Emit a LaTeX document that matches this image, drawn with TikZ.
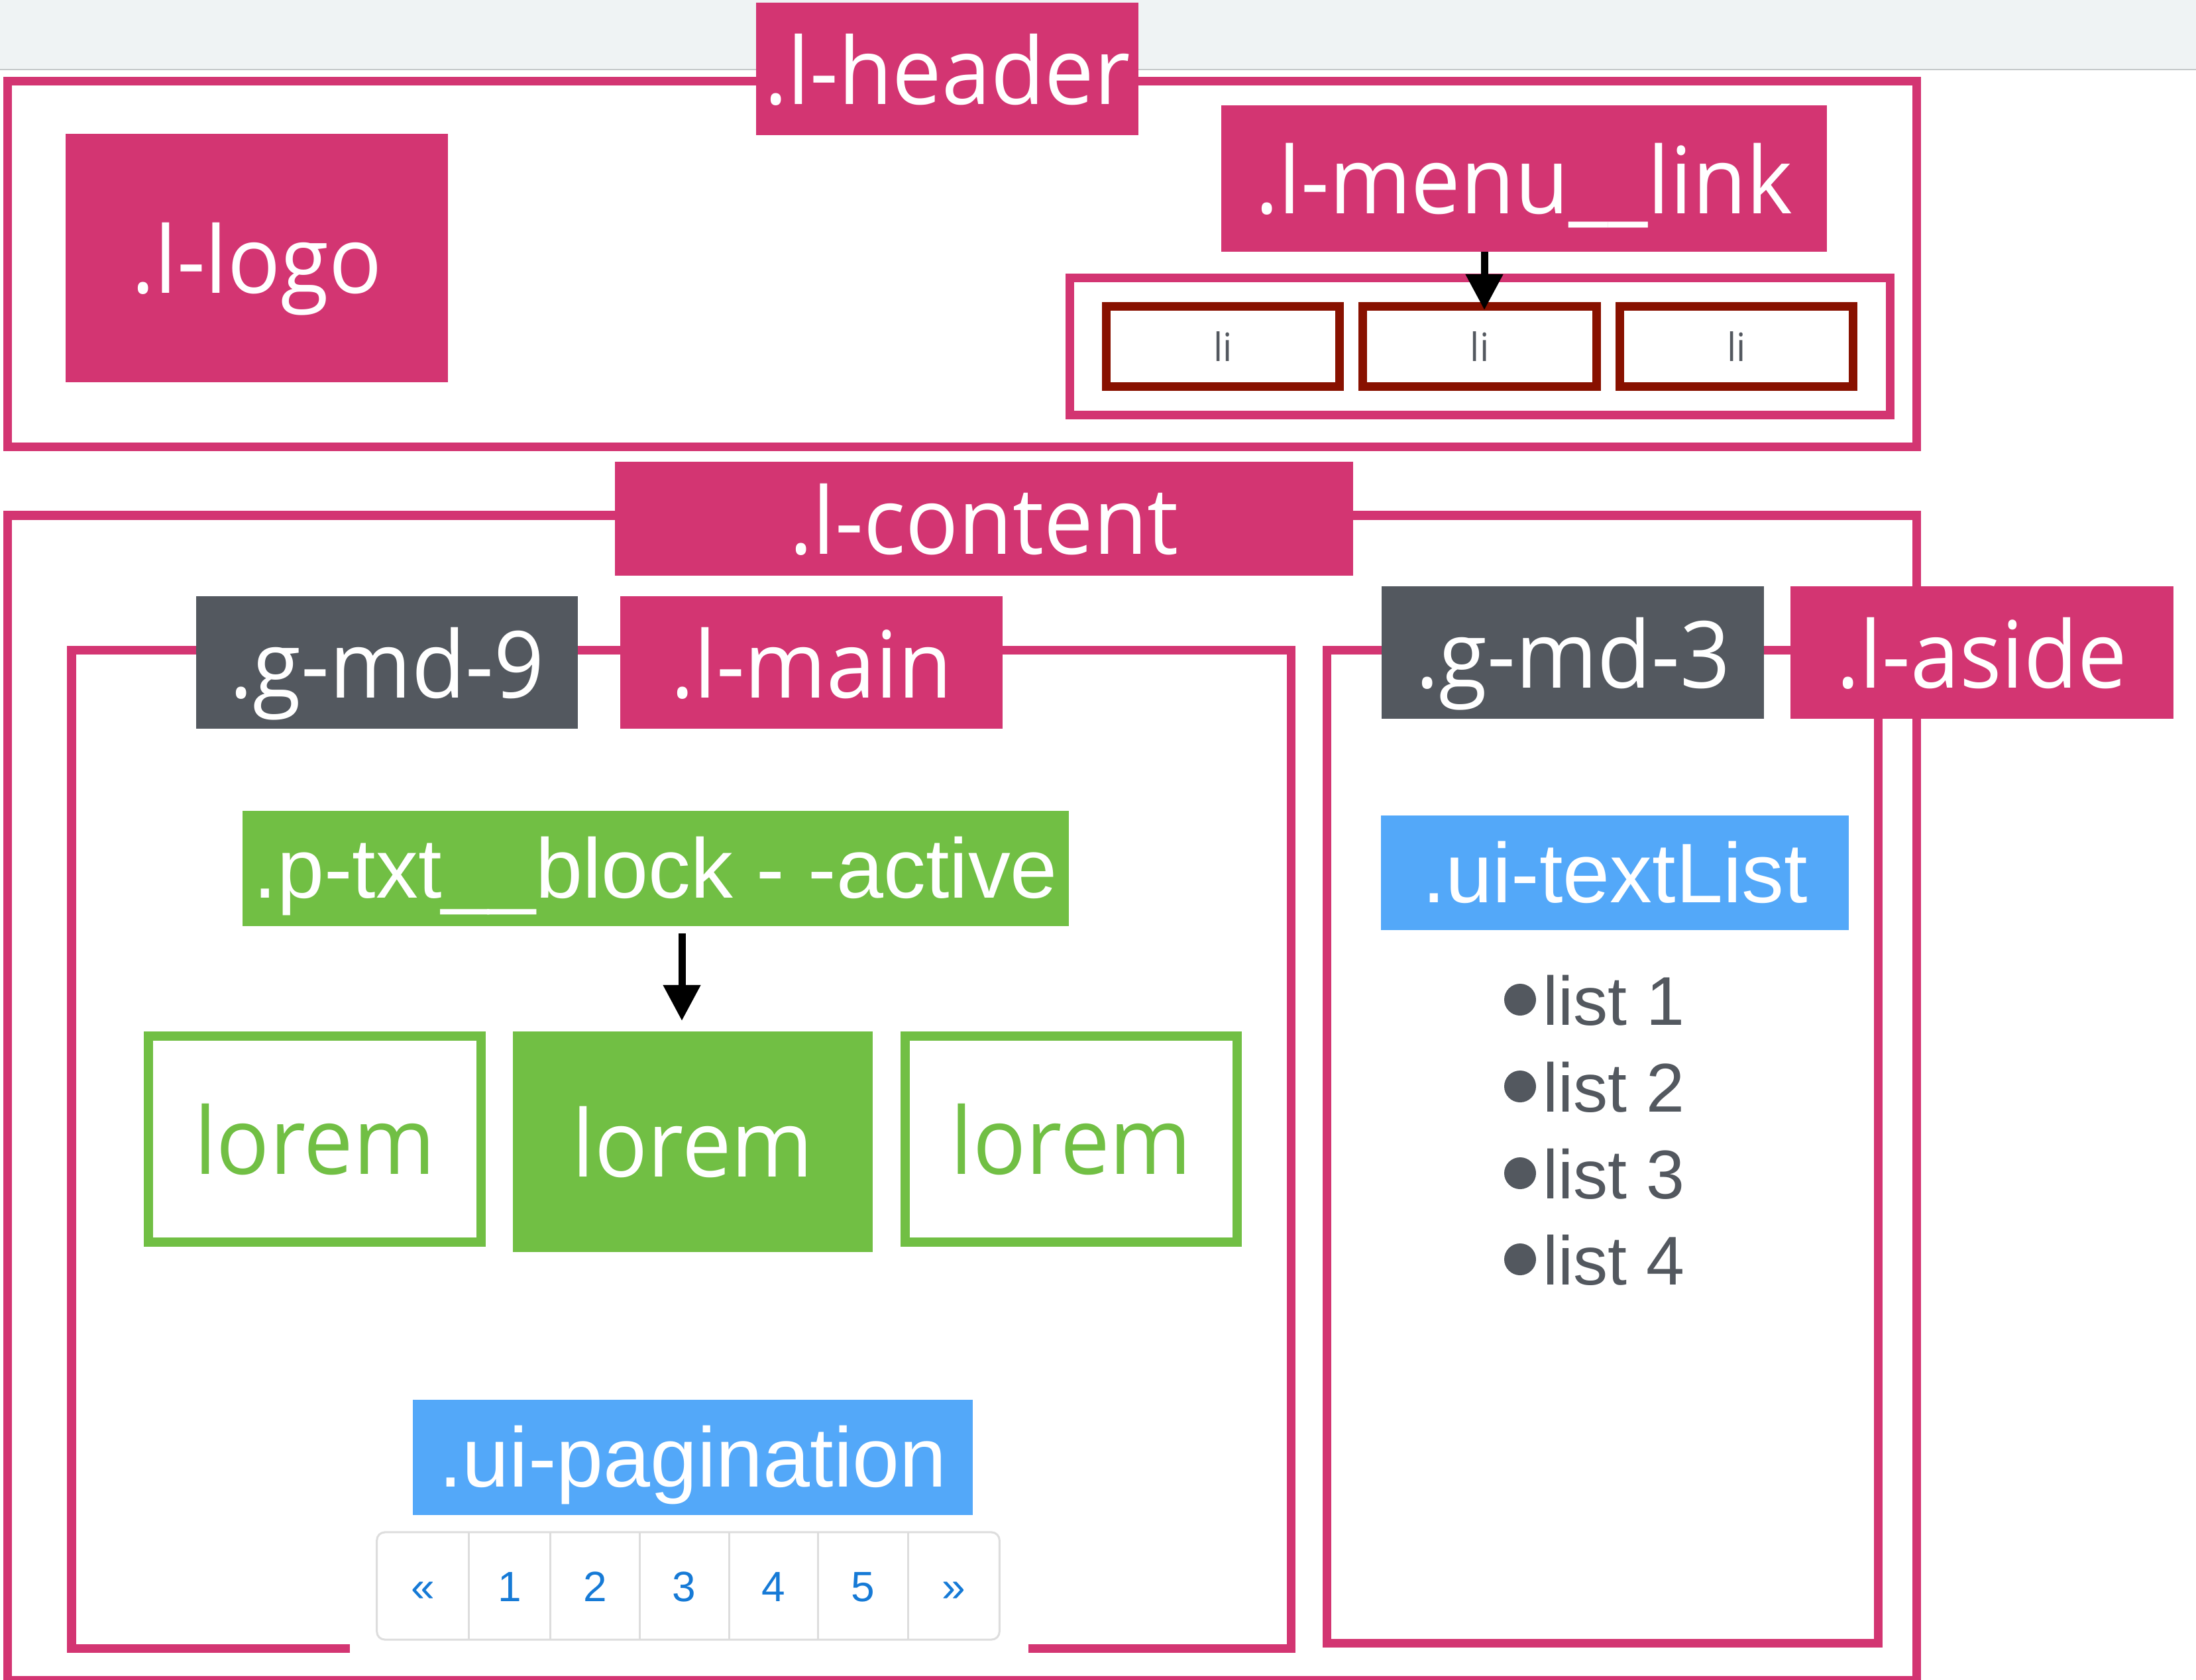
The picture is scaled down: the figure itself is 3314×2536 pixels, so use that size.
\documentclass[tikz,border=0pt]{standalone}
\usepackage{fontspec}
\newfontfamily\gillf[FakeStretch=0.95]{Open Sans}
\newfontfamily\helvf{Liberation Sans}
\usetikzlibrary{arrows.meta,calc}
\definecolor{pinkc}{RGB}{211,53,114}
\definecolor{grayc}{RGB}{83,88,95}
\definecolor{greenc}{RGB}{113,191,68}
\definecolor{bluec}{RGB}{83,168,249}
\definecolor{redc}{RGB}{136,17,0}
\definecolor{bandc}{RGB}{239,243,244}
\definecolor{bandl}{RGB}{196,200,201}
\definecolor{pagtxt}{RGB}{22,122,214}
\definecolor{pagln}{RGB}{221,221,221}
\begin{document}
\begin{tikzpicture}[x=0.01cm,y=-0.01cm,
  every node/.style={inner sep=0pt,outer sep=0pt},
  gillbig/.style={font={\gillf\fontsize{39.8pt}{40pt}\selectfont}, text height=1.06cm, text depth=0pt},
  helvbig/.style={font={\helvf\fontsize{36.3pt}{37pt}\selectfont}, text height=0.89cm, text depth=0pt},
  pinklbl/.style={gillbig, fill=pinkc, text=white},
  graylbl/.style={gillbig, fill=grayc, text=white},
  bluelbl/.style={helvbig, fill=bluec, text=white},
  frame/.style={draw=pinkc, line width=0.13cm},
  libox/.style={draw=redc, line width=0.13cm, minimum width=3.52cm, minimum height=1.21cm,
    font={\gillf\fontsize{16.8pt}{17pt}\selectfont}, text height=0.45cm, text depth=0pt, text=grayc},
  lorembox/.style={draw=greenc, line width=0.14cm, minimum width=5.02cm, minimum height=3.11cm, gillbig, text=greenc},
  listitem/.style={anchor=base west, font={\helvf\fontsize{29.6pt}{30pt}\selectfont}, text=grayc},
  pagnum/.style={font={\helvf\fontsize{18.2pt}{19pt}\selectfont}, text height=0.46cm, text depth=0pt, text=pagtxt},
  pagline/.style={draw=pagln, line width=0.03cm},
  arr/.style={line width=0.11cm, -{Triangle[length=0.54cm,width=0.54cm]}}
]
\useasboundingbox (0,0) rectangle (3314,2536);
\fill[white] (0,0) rectangle (3314,2536);
% browser band
\fill[bandc] (0,0) rectangle (3314,105);
\draw[bandl, line width=0.02cm] (0,105) -- (3314,105);

% frames
\node[frame, minimum width=28.79cm, minimum height=5.52cm] (header) at (1452,398.5) {};
\node[frame, minimum width=28.79cm, minimum height=17.57cm] (content) at (1452,1657) {};
\draw[frame] (528,2488) -| (108,981.5) -| (1948,2488) -- (1552,2488);
\node[frame, minimum width=8.315cm, minimum height=14.99cm] (aside) at (2418.75,1731) {};
\node[frame, minimum width=12.38cm, minimum height=2.07cm] (menu) at (2233.5,523) {};
\node[libox] (li1) at (1845.5,523) {li};
\node[libox] (li2) at (2233,523) {li};
\node[libox] (li3) at (2620.5,523) {li};

% labels
\node[pinklbl, minimum width=5.77cm, minimum height=2cm] (hdr) at (1429.5,104) {.l-header};
\node[pinklbl, minimum width=5.77cm, minimum height=3.75cm] (logo) at (387.5,389.5) {.l-logo};
\node[pinklbl, minimum width=9.14cm, minimum height=2.21cm] (menulink) at (2300,269.5) {.l-menu\_\_link};
\node[pinklbl, minimum width=11.14cm, minimum height=1.72cm] (contentlbl) at (1485,783) {.l-content};
\node[graylbl, minimum width=5.76cm, minimum height=2cm] (gmd9) at (584,1000) {.g-md-9};
\node[pinklbl, minimum width=5.77cm, minimum height=2cm] (lmain) at (1224.5,1000) {.l-main};
\node[graylbl, minimum width=5.77cm, minimum height=2cm] (gmd3) at (2373.5,985) {.g-md-3};
\node[pinklbl, minimum width=5.78cm, minimum height=2cm] (laside) at (2991,985) {.l-aside};

% text block
\node[helvbig, fill=greenc, text=white, minimum width=12.47cm, minimum height=1.74cm] (ptxt) at (989.5,1311) {.p-txt\_\_block - -active};
\node[lorembox] (lorem1) at (475,1719.5) {lorem};
\node[gillbig, fill=greenc, text=white, minimum width=5.43cm, minimum height=3.33cm] (lorem2) at (1045.5,1723.5) {lorem};
\node[lorembox, minimum width=5.01cm] (lorem3) at (1616.5,1719.5) {lorem};

% text list
\node[bluelbl, minimum width=7.06cm, minimum height=1.73cm] (textlist) at (2437,1317.5) {.ui-textList};
\foreach \i/\yy in {1/1547,2/1678,3/1809,4/1939}{
  \fill[grayc] (2294,{\yy-38}) circle (0.24cm);
  \node[listitem] (item\i) at (2328,\yy) {list \i};
}

% pagination
\node[bluelbl, minimum width=8.45cm, minimum height=1.74cm] (paglbl) at (1045.5,2200) {.ui-pagination};
\node[pagline, fill=white, rounded corners=0.12cm, minimum width=9.39cm, minimum height=1.62cm] (pag) at (1038.5,2394) {};
\foreach \x in {707,830,965,1100,1234,1370}
  \draw[pagline] (\x,2313) -- (\x,2475);
\foreach \t/\x [count=\k] in {«/638,1/769,2/898,3/1032,4/1167,5/1302,»/1439}
  \node[pagnum] (pg\k) at (\x,2394) {\t};

% arrows
\draw[arr] ($(menulink.south -| li2.north)+(7,0)$) -- ($(li2.north)+(7,5.5)$);
\draw[arr] ($(ptxt.south -| lorem2.north)+(-16.5,11)$) -- ($(lorem2.north)+(-16.5,-16)$);
\end{tikzpicture}
\end{document}
